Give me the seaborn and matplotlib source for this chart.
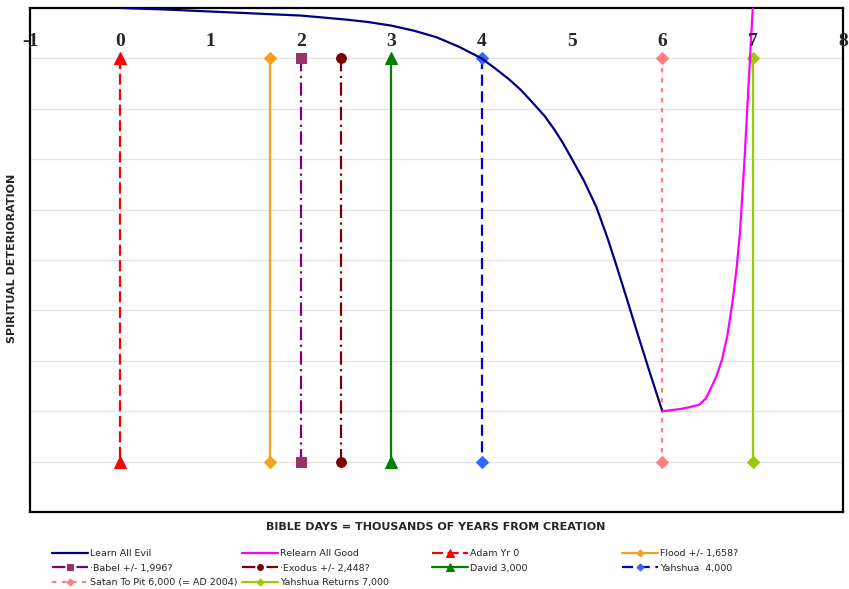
import matplotlib
matplotlib.use("Agg")
import matplotlib.pyplot as plt
import seaborn as sns

# 曲线数据
evil_x = [0, 0.5, 1, 1.5, 2, 2.5, 2.75, 3, 3.25, 3.5, 3.75, 4, 4.15, 4.3, 4.43, 4.56, 4.7, 4.8,
          4.9, 5, 5.13, 5.27, 5.4, 5.49, 5.6, 5.71, 5.85, 6]
evil_y = [0, -0.03, -0.07, -0.11, -0.15, -0.23, -0.28, -0.35, -0.45, -0.58, -0.77, -1.0, -1.2,
          -1.41, -1.62, -1.87, -2.15, -2.4, -2.68, -3.0, -3.42, -3.95, -4.6, -5.1, -5.73, -6.37,
          -7.17, -8.0]
good_x = [6, 6.1, 6.22, 6.3, 6.41, 6.48, 6.55, 6.6, 6.66, 6.72, 6.78, 6.82, 6.86, 6.91, 6.97, 7.02]
good_y = [-8.0, -7.98, -7.95, -7.92, -7.87, -7.75, -7.5, -7.3, -6.98, -6.5, -5.79, -5.2, -4.45,
          -3.0, -1.01, 0.6]

# 事件竖线
event_names = ["Adam Yr 0", "Flood +/- 1,658?", "\u00b7Babel +/- 1,996?", "\u00b7Exodus +/- 2,448?",
               "David 3,000", "Yahshua  4,000", "Satan To Pit 6,000 (= AD 2004)", "Yahshua Returns 7,000"]
event_x = [0, 1.658, 1.996, 2.448, 3, 4, 6, 7]
event_y = [-1, -9]

x_ticks = [-1, 0, 1, 2, 3, 4, 5, 6, 7, 8]
grid_y = [-1, -2, -3, -4, -5, -6, -7, -8, -9]

# 样式
event_styles = [
    dict(color="#FF0000", mfc="#FF0000", marker="^", dashes=(5, 2)),
    dict(color="#F7A020", mfc="#F7A020", marker="D", dashes=None),
    dict(color="#800080", mfc="#993366", marker="s", dashes=(6, 2, 1, 2)),
    dict(color="#7B0000", mfc="#7B0000", marker="o", dashes=(6, 2, 1, 2)),
    dict(color="#008000", mfc="#008000", marker="^", dashes=None),
    dict(color="#0000CC", mfc="#3366FF", marker="D", dashes=(5, 2.5)),
    dict(color="#FF8080", mfc="#FF8080", marker="D", dashes=(2, 2.5)),
    dict(color="#99CC00", mfc="#99CC00", marker="D", dashes=None),
]
msizes = [9, 6, 7, 7, 9, 6, 6, 6]

sns.set_style("white")
plt.rcParams["font.family"] = ["DejaVu Sans"]

fig = plt.figure(figsize=(8.49, 5.89), dpi=100)
ax = fig.add_axes([30 / 849, 1 - 512 / 589, 813 / 849, 504 / 589])

for g in grid_y:
    ax.axhline(g, color="#E3E3E3", lw=0.9, zorder=0)

sns.lineplot(x=evil_x, y=evil_y, ax=ax, color="#000080", lw=1.6, estimator=None, sort=False,
             label="Learn All Evil", zorder=4)
sns.lineplot(x=good_x, y=good_y, ax=ax, color="#FF00FF", lw=1.6, estimator=None, sort=False,
             label="Relearn All Good", zorder=4)

for name, xv, st, ms in zip(event_names, event_x, event_styles, msizes):
    kw = dict(color=st["color"], lw=1.6, marker=st["marker"], markersize=ms,
              markerfacecolor=st["mfc"], markeredgecolor=st["mfc"], estimator=None, sort=False,
              label=name, zorder=3)
    ln = sns.lineplot(x=[xv, xv], y=event_y, ax=ax, **kw).lines[-1]
    if st["dashes"] is not None:
        ln.set_dashes(st["dashes"])

ax.set_xlim(-1, 8)
ax.set_ylim(-10, 0)
ax.set_xticks([])
ax.set_yticks([])
ax.set_xlabel("")
ax.set_ylabel("")
for s in ax.spines.values():
    s.set_color("black")
    s.set_linewidth(1.6)

for t in x_ticks:
    ax.text(t, -0.66, str(t), ha="center", va="center", fontsize=14, fontweight="bold",
            family="Liberation Serif", clip_on=False, zorder=5)

handles, labels = ax.get_legend_handles_labels()
ax.get_legend().remove()

fig.text(436 / 849, 1 - 527 / 589, "BIBLE DAYS = THOUSANDS OF YEARS FROM CREATION",
         ha="center", va="center", fontsize=8, fontweight="bold")
fig.text(12 / 849, 1 - 258 / 589, "SPIRITUAL DETERIORATION", rotation=90,
         ha="center", va="center", fontsize=8, fontweight="bold")

# 图例按行排列，分四列放置
cols = [[0, 4, 8], [1, 5, 9], [2, 6], [3, 7]]
col_x = [52, 242, 432, 622]
for idx, cx in zip(cols, col_x):
    fig.legend([handles[i] for i in idx], [labels[i] for i in idx],
               loc="upper left", bbox_to_anchor=(cx / 849, 1 - 549 / 589),
               frameon=False, fontsize=6.8, handlelength=3.8, handletextpad=0.2,
               borderpad=0, borderaxespad=0, labelspacing=0.6, markerscale=0.6)

fig.savefig("out.png", dpi=100)
